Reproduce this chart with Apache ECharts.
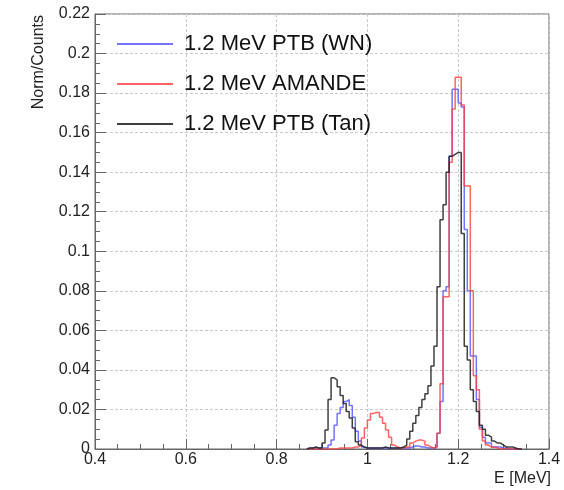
<!DOCTYPE html>
<html>
<head>
<meta charset="utf-8">
<script src="https://cdn.jsdelivr.net/npm/echarts@6/dist/echarts.min.js"></script>
<style>html,body{margin:0;padding:0;background:#fff}#c{width:564px;height:490px}</style>
</head>
<body>
<div id="c"></div>
<script>
// Histogram definition (ROOT-style): 150 bins from 0.4 to 1.4 MeV
const nBins = 150, xLo = 0.4, xHi = 1.4;
const firstBin = 70; // values below start at this bin index (bins 70..140)

const seriesNames = ['1.2 MeV PTB (WN)', '1.2 MeV AMANDE', '1.2 MeV PTB (Tan)'];

const blueVals = [
  0.0005,0.0005,0.0005,0.0005,0.0005,0.0005,0.0005,0.002,0.0045,0.012,   // 70-79
  0.018,0.021,0.024,0.025,0.022,0.016,0.009,0.004,0.001,0.0005,          // 80-89
  0.0005,0.0005,0.0005,0.0005,0.0005,0.0005,0.0005,0.0005,0.0005,0.0005, // 90-99
  0.0005,0.0005,0.0005,0.0005,0.001,0.0015,0.0015,0.001,0.001,0.0005,    // 100-109
  0.0005,0.0005,0.001,0.008,0.024,0.080,0.082,0.148,0.182,0.182,         // 110-119
  0.175,0.173,0.111,0.080,0.047,0.047,0.025,0.011,0.006,0.003,           // 120-129
  0.003,0.001,0.001,0.001,0.0005,0.0005,0,0,0,0,                         // 130-139
  0                                                                      // 140
];
const redVals = [
  0,0,0,0,0,0,0,0,0,0,                                                   // 70-79
  0.0005,0.0005,0.0005,0.0005,0.0005,0.001,0.001,0.002,0.0056,0.0106,    // 80-89
  0.0147,0.018,0.0185,0.0185,0.016,0.013,0.0096,0.006,0.002,0.001,       // 90-99
  0.0005,0.0005,0.001,0.001,0.003,0.004,0.0045,0.0045,0.004,0.002,       // 100-109
  0.001,0.0005,0.001,0.008,0.033,0.077,0.077,0.145,0.172,0.188,          // 110-119
  0.188,0.174,0.133,0.133,0.080,0.037,0.030,0.010,0.004,0.002,           // 120-129
  0.001,0.001,0.0005,0,0,0,0,0,0,0,                                      // 130-139
  0                                                                      // 140
];
const blackVals = [
  0.0005,0.0005,0.001,0.0005,0.0005,0.003,0.0096,0.025,0.036,0.035,      // 70-79
  0.0315,0.027,0.023,0.019,0.0157,0.0106,0.0037,0.002,0.001,0.0005,      // 80-89
  0.0005,0.0005,0.0005,0.0005,0.0005,0.001,0.0005,0.0005,0.0005,0.0005,  // 90-99
  0.0005,0.001,0.002,0.005,0.009,0.013,0.017,0.021,0.025,0.028,          // 100-109
  0.032,0.042,0.052,0.082,0.116,0.1235,0.14,0.148,0.149,0.15,            // 110-119
  0.15,0.109,0.052,0.045,0.030,0.024,0.019,0.012,0.010,0.007,            // 120-129
  0.006,0.004,0.003,0.003,0.002,0.001,0.001,0.001,0.0005,0,              // 130-139
  0                                                                      // 140
];

const colors = ['rgba(80,80,255,0.8)', 'rgba(255,60,60,0.8)', 'rgba(30,30,30,0.85)'];

function toSteps(vals) {
  const w = (xHi - xLo) / nBins;
  const pts = [[xLo + firstBin * w, 0]];
  vals.forEach((v, i) => pts.push([xLo + (firstBin + i) * w, v]));
  pts.push([xLo + (firstBin + vals.length) * w, 0]);
  return pts;
}

const fmt = v => (v === 0 ? '0' : String(+v.toFixed(2)));
const FONT = 'Liberation Sans, Arial, Helvetica, sans-serif';
const gridLine = { show: true, lineStyle: { color: '#cacaca', type: [3, 2], width: 1 } };

const chart = echarts.init(document.getElementById('c'), null, { renderer: 'canvas' });
chart.setOption({
  animation: false,
  backgroundColor: '#fff',
  grid: { left: 95, right: 15, top: 14, bottom: 41, show: true, borderColor: '#666', borderWidth: 1 },
  legend: {
    left: 112, top: 28, orient: 'vertical',
    itemWidth: 56, itemHeight: 2, itemGap: 18, icon: 'rect',
    data: seriesNames,
    textStyle: { fontFamily: FONT, fontSize: 22, lineHeight: 22, color: '#111', padding: [0, 0, 0, 6] }
  },
  xAxis: {
    type: 'value', min: 0.4, max: 1.4, interval: 0.2,
    axisLine: { lineStyle: { color: '#666' } },
    axisTick: { inside: true, length: 10, lineStyle: { color: '#666' } },
    minorTick: { show: true, splitNumber: 4, length: 5, lineStyle: { color: '#666' } },
    axisLabel: { formatter: fmt, fontFamily: FONT, fontSize: 16, color: '#222', margin: 3 },
    splitLine: gridLine
  },
  yAxis: {
    type: 'value', min: 0, max: 0.22, interval: 0.02,
    axisLine: { show: true, lineStyle: { color: '#666' } },
    axisTick: { show: true, inside: true, length: 11, lineStyle: { color: '#666' } },
    minorTick: { show: true, splitNumber: 4, length: 5, lineStyle: { color: '#666' } },
    axisLabel: { formatter: fmt, fontFamily: FONT, fontSize: 16, color: '#222', margin: 5 },
    splitLine: gridLine
  },
  graphic: [
    { type: 'text', x: 39, y: 15, rotation: Math.PI / 2,
      style: { text: 'Norm/Counts', font: '16px Liberation Sans', fill: '#222', align: 'right', verticalAlign: 'middle' } },
    { type: 'text', x: 551, y: 479,
      style: { text: 'E [MeV]', font: '16px Liberation Sans', fill: '#222', align: 'right', verticalAlign: 'middle' } }
  ],
  series: [blueVals, redVals, blackVals].map((vals, k) => ({
    name: seriesNames[k], type: 'line', step: 'end', symbol: 'none',
    data: toSteps(vals),
    lineStyle: { color: colors[k], width: 1.5 },
    itemStyle: { color: colors[k] },
    clip: true
  }))
});
</script>
</body>
</html>
